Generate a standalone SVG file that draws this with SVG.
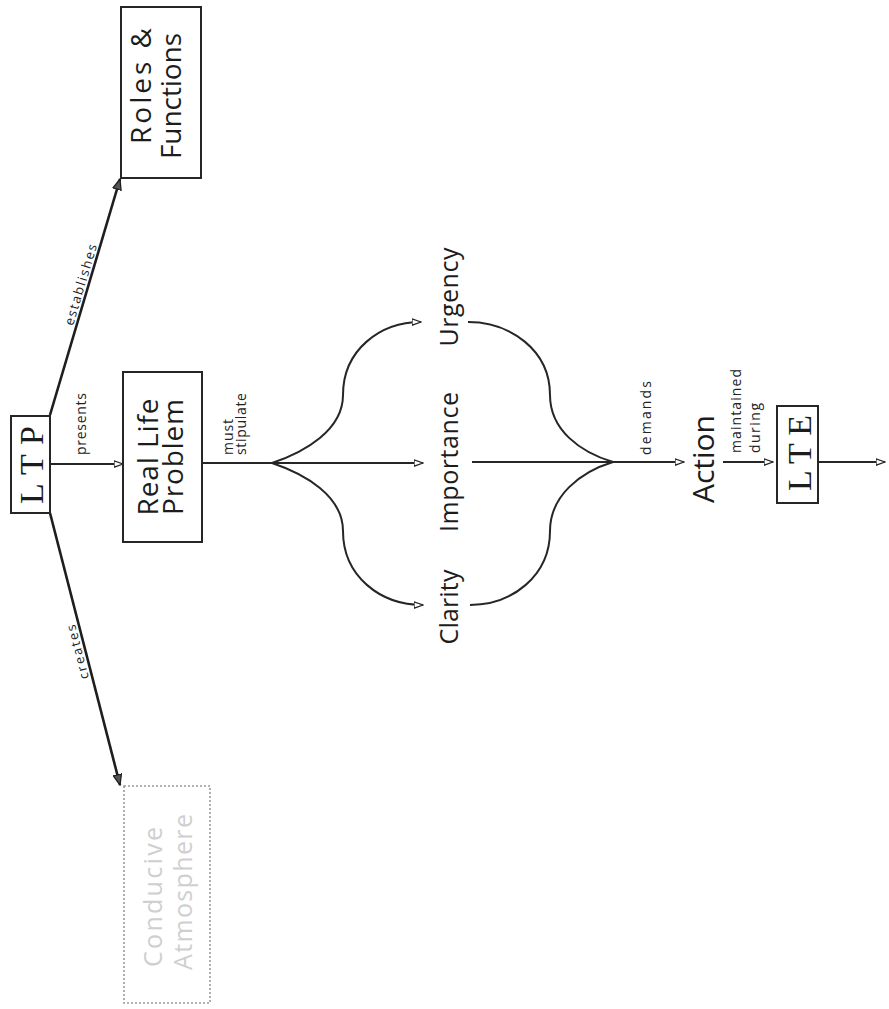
<svg xmlns="http://www.w3.org/2000/svg" width="889" height="1009" viewBox="0 0 889 1009">
<style>
.ln{fill:none;stroke:#262626;stroke-width:2}
.dg{fill:none;stroke:#1e1e1e;stroke-width:2.6}
.box{fill:none;stroke:#262626;stroke-width:2}
.t{font-family:"Open Sans","DejaVu Sans",sans-serif;fill:#1c1c1c;text-anchor:middle}
.s{font-family:"Open Sans","DejaVu Sans",sans-serif;fill:#222;font-size:14px;text-anchor:start}
.m{font-family:"Open Sans","DejaVu Sans",sans-serif;fill:#222;font-size:13px;text-anchor:middle}
.serif{font-family:"Liberation Serif","Times New Roman",serif;fill:#1c1c1c;text-anchor:middle;font-size:34px}
.faded{font-family:"Open Sans","DejaVu Sans",sans-serif;fill:#cfcfcf;text-anchor:middle;font-size:25px}
</style>
<defs>
<marker id="arr" viewBox="0 0 10 8" refX="9.5" refY="4" markerWidth="10" markerHeight="8" markerUnits="userSpaceOnUse" orient="auto">
<path d="M0.5,0.8 L9.5,4 L0.5,7.2 Z" fill="#fff" stroke="#262626" stroke-width="1.3"/>
</marker>
<marker id="arrf" viewBox="0 0 12 10" refX="11" refY="5" markerWidth="12" markerHeight="10" markerUnits="userSpaceOnUse" orient="auto">
<path d="M0.5,0.8 L11,5 L0.5,9.2 Z" fill="#555" stroke="#1e1e1e" stroke-width="1.3"/>
</marker>
</defs>
<rect width="889" height="1009" fill="#fff"/>

<g id="connectors">
<line class="dg" x1="50" y1="415" x2="120" y2="179" marker-end="url(#arrf)"/>
<line class="dg" x1="50" y1="513" x2="120" y2="785" marker-end="url(#arrf)"/>
<line class="ln" x1="50" y1="464" x2="123" y2="464" marker-end="url(#arr)"/>
<line class="ln" x1="202" y1="463" x2="423" y2="463" marker-end="url(#arr)"/>
<path class="ln" d="M272,463 C305,452 343,430 343,395 C343,350 380,322 421,322" marker-end="url(#arr)"/>
<path class="ln" d="M272,463 C305,474 343,496 343,531 C343,576 380,605 423,605" marker-end="url(#arr)"/>
<path class="ln" d="M468,322 C510,322 550,350 550,395 C550,430 580,452 613,462"/>
<path class="ln" d="M470,605 C512,605 550,576 550,531 C550,496 580,472 613,462"/>
<line class="ln" x1="472" y1="462" x2="684" y2="462" marker-end="url(#arr)"/>
<line class="ln" x1="723" y1="462" x2="773" y2="462" marker-end="url(#arr)"/>
<line class="ln" x1="818" y1="462" x2="885" y2="462" marker-end="url(#arr)"/>
<text class="m" textLength="84" transform="translate(85,286) rotate(-73.3)">establishes</text>
<text class="m" textLength="56" transform="translate(82,651) rotate(-104.4)">creates</text>
<text class="s" textLength="62" transform="translate(86,455) rotate(-90)">presents</text>
<text class="s" textLength="36" transform="translate(233,455) rotate(-90)">must</text>
<text class="s" textLength="62" transform="translate(246,455) rotate(-90)">stipulate</text>
<text class="s" textLength="74" transform="translate(651,455) rotate(-90)">demands</text>
<text class="s" textLength="84" transform="translate(741,453) rotate(-90)">maintained</text>
<text class="s" textLength="50" transform="translate(760,453) rotate(-90)">during</text>
</g>

<g id="node-ltp">
<rect class="box" x="11" y="416" width="39" height="97"/>
<text class="serif" textLength="78" transform="translate(43,465) rotate(-90)">L T P</text>
</g>

<g id="node-roles">
<rect class="box" x="121" y="7" width="80" height="171"/>
<text class="t" font-size="28" textLength="116" transform="translate(151,86) rotate(-90)">Roles &amp;</text>
<text class="t" font-size="28" textLength="126" transform="translate(181,96) rotate(-90)">Functions</text>
</g>

<g id="node-problem">
<rect class="box" x="123" y="372" width="79" height="170"/>
<text class="t" font-size="28" textLength="117" transform="translate(158,457) rotate(-90)">Real Life</text>
<text class="t" font-size="28" textLength="116" transform="translate(183,457) rotate(-90)">Problem</text>
</g>

<g id="node-atmosphere">
<rect x="124" y="786" width="86" height="217" fill="none" stroke="#9a9a9a" stroke-width="1.6" stroke-dasharray="2 2"/>
<text class="faded" textLength="140" transform="translate(162,897) rotate(-90)">Conducive</text>
<text class="faded" textLength="156" transform="translate(192,892) rotate(-90)">Atmosphere</text>
</g>

<g id="node-urgency">
<text class="t" font-size="25" textLength="99" transform="translate(458,297) rotate(-90)">Urgency</text>
</g>
<g id="node-importance">
<text class="t" font-size="25" textLength="140" transform="translate(458,462) rotate(-90)">Importance</text>
</g>
<g id="node-clarity">
<text class="t" font-size="25" textLength="75" transform="translate(458,607) rotate(-90)">Clarity</text>
</g>

<g id="node-action">
<text class="t" font-size="30" textLength="88" transform="translate(714,459) rotate(-90)">Action</text>
</g>

<g id="node-lte">
<rect class="box" x="777" y="406" width="41" height="97"/>
<text class="serif" textLength="76" transform="translate(811,453) rotate(-90)">L T E</text>
</g>
</svg>
